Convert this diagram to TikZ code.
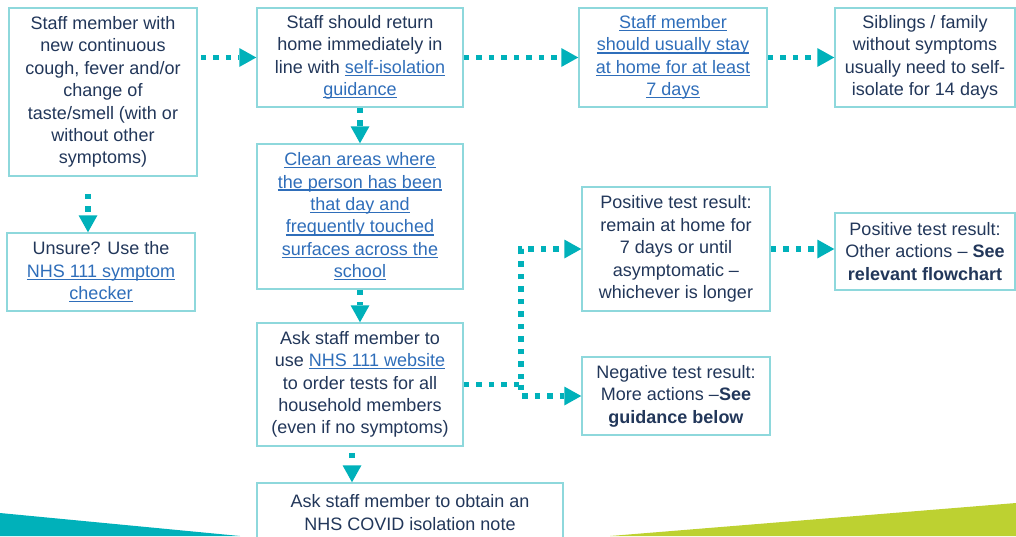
\documentclass[tikz,border=0pt]{standalone}
\usepackage{fontspec}
\setmainfont{Liberation Sans}
\usetikzlibrary{arrows.meta,positioning,calc}
\definecolor{cteal}{HTML}{00B1BA}
\definecolor{cedge}{HTML}{8ED8DC}
\definecolor{cnavy}{HTML}{22375A}
\definecolor{clink}{HTML}{2F6EBA}
\definecolor{cgreen}{HTML}{BDD131}
\newsavebox{\lnkbox}
\newcommand{\lnk}[1]{\textcolor{clink}{\sbox{\lnkbox}{#1}%
  \rlap{\rule[-2.6pt]{\wd\lnkbox}{1.3pt}}\usebox{\lnkbox}}}
\tikzset{
  cbox/.style={draw=cedge, line width=1.5pt, fill=white, align=center,
               inner sep=2pt, text=cnavy,
               font=\fontsize{18}{22.4}\selectfont},
  cflow/.style={draw=cteal, line width=5.3pt, dash pattern=on 5.5pt off 7pt,
                -{Triangle[length=17pt,width=19pt,line width=0pt]}},
}

\begin{document}
\begin{tikzpicture}[x=1pt,y=-1pt]
  \useasboundingbox (0,0) rectangle (1016,536);

  % bandeaux du bas
  \fill[cteal]  (0,513) -- (240,536) -- (0,536) -- cycle;
  \fill[cgreen] (610,536) -- (1016,503) -- (1016,536) -- cycle;

  % colonne de gauche
  \node[cbox, minimum width=188, minimum height=168] (sym) at (103,92)
    {Staff member with\\new continuous\\cough, fever and/or\\change of\\taste/smell (with or\\without other\\symptoms)};
  \node[cbox, minimum width=188, minimum height=78] (unsure) at (101,272)
    {Unsure? Use the\\\lnk{NHS 111 symptom}\\\lnk{checker}};

  % colonne du milieu
  \node[cbox, minimum width=206, minimum height=99] (home) at (360,57.5)
    {Staff should return\\home immediately in\\line with \lnk{self-isolation}\\\lnk{guidance}};
  \node[cbox, minimum width=206, minimum height=145] (clean) at (360,216.5)
    {\lnk{Clean areas where}\\\lnk{the person has been}\\\lnk{that day and}\\\lnk{frequently touched}\\\lnk{surfaces across the}\\\lnk{school}};
  \node[cbox, minimum width=206, minimum height=123] (ask) at (360,384.5)
    {Ask staff member to\\use \lnk{NHS 111 website}\\to order tests for all\\household members\\(even if no symptoms)};
  \node[cbox, minimum width=306, minimum height=59] (note) at (410,512.5)
    {Ask staff member to obtain an\\NHS COVID isolation note};

  % colonne de droite
  \node[cbox, minimum width=188, minimum height=99] (stay) at (673,57.5)
    {\lnk{Staff member}\\\lnk{should usually stay}\\\lnk{at home for at least}\\\lnk{7 days}};
  \node[cbox, minimum width=180, minimum height=99] (sib) at (925,57.5)
    {Siblings / family\\without symptoms\\usually need to self-\\isolate for 14 days};
  \node[cbox, minimum width=188, minimum height=124] (posres) at (676,249)
    {Positive test result:\\remain at home for\\7 days or until\\asymptomatic --\\whichever is longer};
  \node[cbox, minimum width=180, minimum height=77] (other) at (925,251.5)
    {Positive test result:\\Other actions -- \textbf{See}\\\textbf{relevant flowchart}};
  \node[cbox, minimum width=188, minimum height=78] (negres) at (676,396)
    {Negative test result:\\More actions --\textbf{See}\\\textbf{guidance below}};

  % flèches
  \coordinate (fork) at (521,384.5);
  \draw[cflow, shorten <=3pt] (home.west -| sym.east) -- (home.west);
  \draw[cflow] (home.east) -- (stay.west);
  \draw[cflow] (stay.east) -- (sib.west);
  \draw[cflow, shorten <=17pt] ([xshift=-15pt]sym.south) -- ([xshift=-15pt]sym.south |- unsure.north);
  \draw[cflow] (home.south) -- (clean.north);
  \draw[cflow] (clean.south) -- (ask.north);
  \draw[cflow, shorten <=6pt] ([xshift=-8pt]ask.south) -- ([xshift=-8pt]ask.south |- note.north);
  \draw[cflow] (ask.east) -- (fork) |- (posres.west);
  \draw[cflow] (fork) |- (negres.west);
  \draw[cflow] (posres.east) -- (posres.east -| other.west);

\end{tikzpicture}
\end{document}
